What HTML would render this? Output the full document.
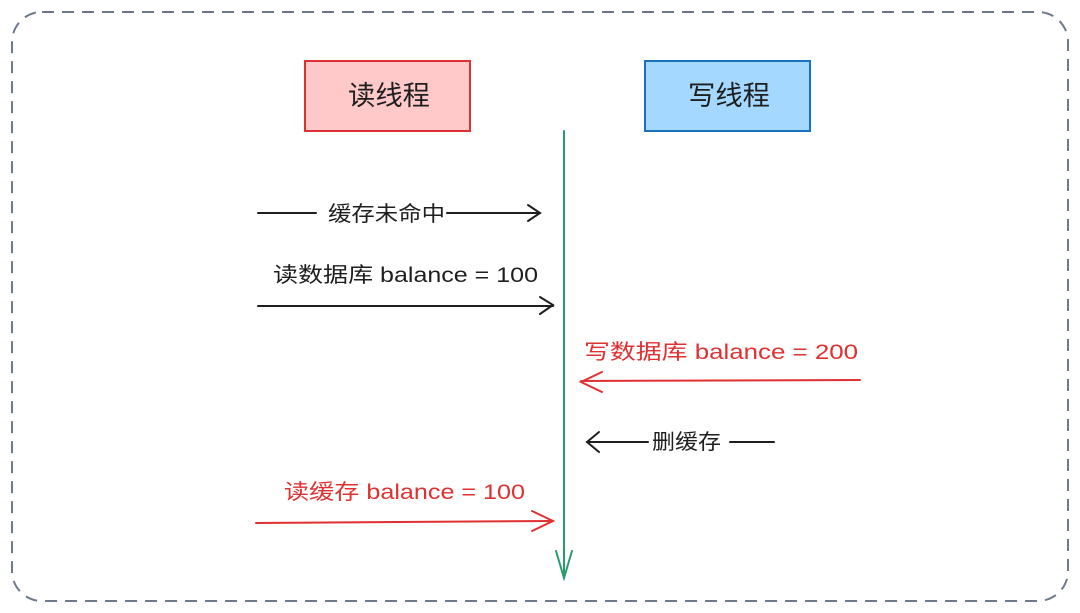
<!DOCTYPE html>
<html><head><meta charset="utf-8"><style>
html,body{margin:0;padding:0;background:#fff;}
svg{display:block;}
text{font-family:"Liberation Sans","Noto Sans CJK SC",sans-serif;}
</style></head><body>
<svg width="1080" height="613" viewBox="0 0 1080 613" xmlns="http://www.w3.org/2000/svg">
<rect x="12" y="12" width="1056" height="589" rx="30" ry="30" fill="none" stroke="#6e7a8c" stroke-width="2" stroke-dasharray="12 8"/>
<rect x="305" y="61" width="165" height="70" fill="#ffc9c9" stroke="#e03131" stroke-width="2"/>
<text x="348" y="105" font-size="27" textLength="82" lengthAdjust="spacingAndGlyphs" fill="#1e1e1e">读线程</text>
<rect x="645" y="61" width="165" height="70" fill="#a5d8ff" stroke="#1971c2" stroke-width="2"/>
<text x="688" y="105" font-size="27" textLength="82" lengthAdjust="spacingAndGlyphs" fill="#1e1e1e">写线程</text>
<g stroke="#2b9a6c" stroke-width="2" fill="none" stroke-linecap="round">
<line x1="564" y1="131" x2="564" y2="577"/>
<polyline points="556,551 564,578 572,551"/>
</g>
<g stroke="#1e1e1e" stroke-width="2" fill="none" stroke-linecap="round">
<line x1="258" y1="213" x2="316" y2="213"/>
<line x1="447" y1="213" x2="540" y2="213"/>
<polyline points="528,205 540,213 528,221"/>
<line x1="258" y1="306" x2="553" y2="306"/>
<polyline points="540,297 553,305 540,314"/>
<polyline points="599,432 587,442 599,452"/>
<line x1="587" y1="442" x2="648" y2="442"/>
<line x1="730" y1="442" x2="774" y2="442"/>
</g>
<g stroke="#e03131" stroke-width="2" fill="none" stroke-linecap="round">
<line x1="581" y1="381" x2="860" y2="380"/>
<polyline points="602,372 581,382 602,392"/>
<line x1="256" y1="523" x2="553" y2="521"/>
<polyline points="532,511 553,521 532,531"/>
</g>
<text x="328" y="221" font-size="21" textLength="117" lengthAdjust="spacingAndGlyphs" fill="#1e1e1e">缓存未命中</text>
<text x="273" y="282" font-size="21" textLength="265" lengthAdjust="spacingAndGlyphs" fill="#1e1e1e">读数据库 balance = 100</text>
<text x="584" y="359" font-size="21" textLength="274" lengthAdjust="spacingAndGlyphs" fill="#e03131">写数据库 balance = 200</text>
<text x="652" y="449" font-size="21" textLength="69" lengthAdjust="spacingAndGlyphs" fill="#1e1e1e">删缓存</text>
<text x="284" y="499" font-size="21" textLength="241" lengthAdjust="spacingAndGlyphs" fill="#e03131">读缓存 balance = 100</text>
</svg>
</body></html>
